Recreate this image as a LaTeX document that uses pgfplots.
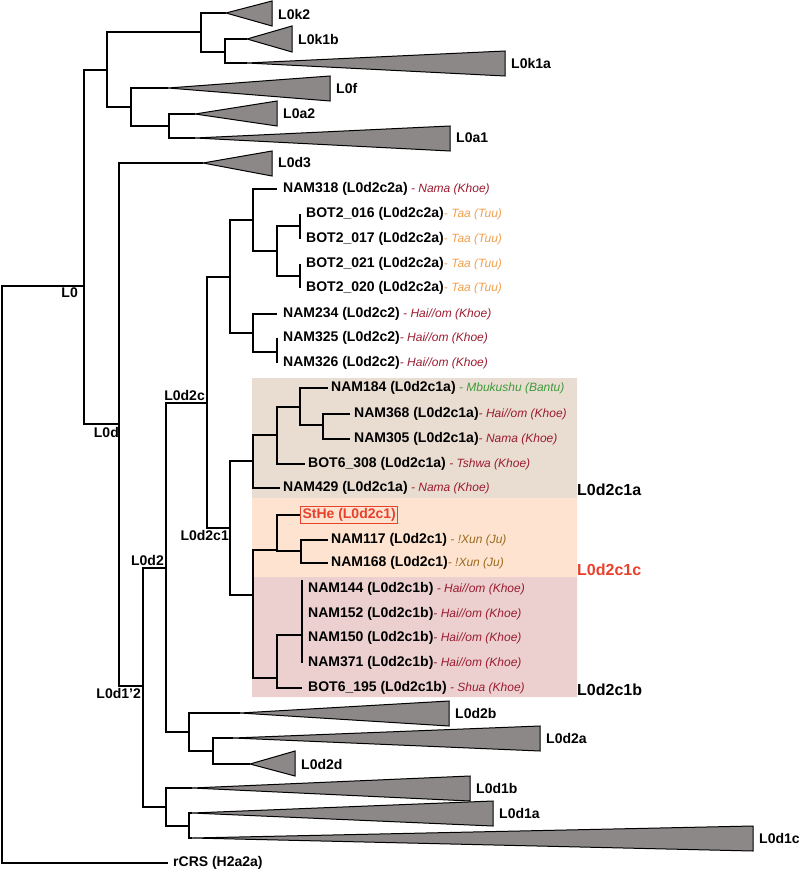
\documentclass[border=0pt]{standalone}
\usepackage{fontspec}
\setmainfont{Liberation Sans}
\usepackage{pgfplots}
\pgfplotsset{compat=1.18}
\definecolor{khoe}{HTML}{9B1B30}
\definecolor{taa}{HTML}{F0A050}
\definecolor{bantu}{HTML}{3F9A3A}
\definecolor{xun}{HTML}{9C6A1E}
\definecolor{hl}{HTML}{E8412C}
\definecolor{bga}{HTML}{E9DDD2}
\definecolor{bgc}{HTML}{FDE3D0}
\definecolor{bgb}{HTML}{EBD0CF}
\definecolor{trig}{HTML}{8C8888}
\tikzset{br/.style={black,line width=1.3pt,no marks},
 tri/.style={draw=black,fill=trig,line width=1pt,no marks},
 bg/.style={draw=none,fill=#1,no marks},
 lf/.style={anchor=west,inner sep=1pt},
 cl/.style={anchor=west,inner sep=1pt,font=\fontsize{14}{16}\selectfont\bfseries},
 big/.style={anchor=west,inner sep=1pt,font=\fontsize{16}{18}\selectfont\bfseries}}
\newcommand{\lf}[3]{{\fontsize{14}{16}\selectfont\bfseries #1}{\fontsize{12}{14}\selectfont\itshape\color{#2}#3}}
\begin{document}
\begin{tikzpicture}
\begin{axis}[width=800pt,height=872pt,scale only axis,xmin=0,xmax=800,ymin=0,ymax=872,
 y dir=reverse,hide axis,clip=false]
% shaded groups
\addplot[bg=bga] coordinates {(252,378)(577,378)(577,498)(252,498)(252,378)};
\addplot[bg=bgc] coordinates {(252,498)(577,498)(577,577)(252,577)(252,498)};
\addplot[bg=bgb] coordinates {(252,577)(577,577)(577,697)(252,697)(252,577)};
% branches
\addplot[br] coordinates {(84,286)(2,286)(2,863)(168,863)};
\addplot[br] coordinates {(107,70)(84,70)(84,424)(119,424)};
\addplot[br] coordinates {(201,32)(107,32)(107,107)(131,107)};
\addplot[br] coordinates {(226,13)(201,13)(201,52)(225,52)};
\addplot[br] coordinates {(247,39)(225,39)(225,63)(247,63)};
\addplot[br] coordinates {(168,88)(131,88)(131,126)(169,126)};
\addplot[br] coordinates {(195,114)(169,114)(169,138)(195,138)};
\addplot[br] coordinates {(203,163)(119,163)(119,686)(143,686)};
\addplot[br] coordinates {(166,568)(143,568)(143,807)(166,807)};
\addplot[br] coordinates {(207,403)(166,403)(166,732)(189,732)};
\addplot[br] coordinates {(230,277)(207,277)(207,528)(230,528)};
\addplot[br] coordinates {(253,220)(230,220)(230,333)(253,333)};
\addplot[br] coordinates {(277,189)(253,189)(253,251)(277,251)};
\addplot[br] coordinates {(300,226)(277,226)(277,276)(300,276)};
\addplot[br] coordinates {(300,214)(300,239)};
\addplot[br] coordinates {(300,264)(300,288)};
\addplot[br] coordinates {(277,314)(253,314)(253,352)(277,352)};
\addplot[br] coordinates {(277,338)(277,363)};
\addplot[br] coordinates {(253,461)(230,461)(230,595)(253,595)};
\addplot[br] coordinates {(277,435)(253,435)(253,488)(280,488)};
\addplot[br] coordinates {(300,407)(277,407)(277,464)(305,464)};
\addplot[br] coordinates {(328,388)(300,388)(300,425)(323,425)};
\addplot[br] coordinates {(350,414)(323,414)(323,439)(350,439)};
\addplot[br] coordinates {(277,550)(253,550)(253,678)(277,678)};
\addplot[br] coordinates {(300,515)(277,515)(277,551)(301,551)};
\addplot[br] coordinates {(328,540)(301,540)(301,563)(328,563)};
\addplot[br] coordinates {(302,635)(277,635)(277,688)(302,688)};
\addplot[br] coordinates {(302,580)(302,663)};
\addplot[br] coordinates {(240,713)(189,713)(189,751)(213,751)};
\addplot[br] coordinates {(233,738)(213,738)(213,764)(250,764)};
\addplot[br] coordinates {(192,788)(166,788)(166,826)(189,826)};
\addplot[br] coordinates {(192,813)(189,813)(189,838)(192,838)};
% collapsed clades
\addplot[tri] coordinates {(226,13)(272,1)(272,26)(226,13)};
\addplot[tri] coordinates {(247,39)(292,26)(292,52)(247,39)};
\addplot[tri] coordinates {(247,63)(505,51)(505,76)(247,63)};
\addplot[tri] coordinates {(168,88)(330,76)(330,101)(168,88)};
\addplot[tri] coordinates {(195,114)(277,101)(277,126)(195,114)};
\addplot[tri] coordinates {(195,138)(450,126)(450,151)(195,138)};
\addplot[tri] coordinates {(203,163)(272,151)(272,176)(203,163)};
\addplot[tri] coordinates {(240,713)(449,701)(449,726)(240,713)};
\addplot[tri] coordinates {(233,738)(540,726)(540,751)(233,738)};
\addplot[tri] coordinates {(250,764)(295,751)(295,776)(250,764)};
\addplot[tri] coordinates {(192,788)(470,776)(470,801)(192,788)};
\addplot[tri] coordinates {(192,813)(493,801)(493,826)(192,813)};
\addplot[tri] coordinates {(192,838)(753,826)(753,851)(192,838)};
\addplot[draw=none,no marks] coordinates {(0,0)(800,872)};
% clade labels
\node[cl] at (axis cs:277,14) {L0k2};
\node[cl] at (axis cs:297,39) {L0k1b};
\node[cl] at (axis cs:510,63) {L0k1a};
\node[cl] at (axis cs:335,88) {L0f};
\node[cl] at (axis cs:282,114) {L0a2};
\node[cl] at (axis cs:455,138) {L0a1};
\node[cl] at (axis cs:277,163) {L0d3};
\node[cl] at (axis cs:454,713) {L0d2b};
\node[cl] at (axis cs:545,738) {L0d2a};
\node[cl] at (axis cs:300,764) {L0d2d};
\node[cl] at (axis cs:475,788) {L0d1b};
\node[cl] at (axis cs:498,813) {L0d1a};
\node[cl] at (axis cs:758,838) {L0d1c};
% node labels
\node[cl,anchor=north east] at (axis cs:79,287) {L0};
\node[cl,anchor=north east] at (axis cs:120,426) {L0d};
\node[cl,anchor=north east] at (axis cs:142,687) {L0d1'2};
\node[cl,anchor=south east] at (axis cs:165,567) {L0d2};
\node[cl,anchor=south east] at (axis cs:206,402) {L0d2c};
\node[cl,anchor=north east] at (axis cs:230,529) {L0d2c1};
% group labels
\node[big] at (axis cs:576,490) {L0d2c1a};
\node[big,text=hl] at (axis cs:576,570) {L0d2c1c};
\node[big] at (axis cs:576,690) {L0d2c1b};
% leaves
\node[lf] at (axis cs:282,189) {\lf{NAM318 (L0d2c2a)}{khoe}{\ - Nama (Khoe)}};
\node[lf] at (axis cs:305,214) {\lf{BOT2\_016 (L0d2c2a)}{taa}{- Taa (Tuu)}};
\node[lf] at (axis cs:305,239) {\lf{BOT2\_017 (L0d2c2a)}{taa}{- Taa (Tuu)}};
\node[lf] at (axis cs:305,264) {\lf{BOT2\_021 (L0d2c2a)}{taa}{- Taa (Tuu)}};
\node[lf] at (axis cs:305,288) {\lf{BOT2\_020 (L0d2c2a)}{taa}{- Taa (Tuu)}};
\node[lf] at (axis cs:282,314) {\lf{NAM234 (L0d2c2)}{khoe}{\ - Hai//om (Khoe)}};
\node[lf] at (axis cs:282,338) {\lf{NAM325 (L0d2c2)}{khoe}{- Hai//om (Khoe)}};
\node[lf] at (axis cs:282,363) {\lf{NAM326 (L0d2c2)}{khoe}{- Hai//om (Khoe)}};
\node[lf] at (axis cs:330,388) {\lf{NAM184 (L0d2c1a)}{bantu}{\ - Mbukushu (Bantu)}};
\node[lf] at (axis cs:353,414) {\lf{NAM368 (L0d2c1a)}{khoe}{- Hai//om (Khoe)}};
\node[lf] at (axis cs:353,439) {\lf{NAM305 (L0d2c1a)}{khoe}{- Nama (Khoe)}};
\node[lf] at (axis cs:307,464) {\lf{BOT6\_308 (L0d2c1a)}{khoe}{\ - Tshwa (Khoe)}};
\node[lf] at (axis cs:282,488) {\lf{NAM429 (L0d2c1a)}{khoe}{\ - Nama (Khoe)}};
\node[anchor=west,draw=hl,line width=1pt,inner sep=2pt,text=hl,font=\fontsize{14}{16}\selectfont\bfseries] at (axis cs:300,515) {StHe (L0d2c1)};
\node[lf] at (axis cs:330,540) {\lf{NAM117 (L0d2c1)}{xun}{\ - !Xun (Ju)}};
\node[lf] at (axis cs:330,563) {\lf{NAM168 (L0d2c1)}{xun}{- !Xun (Ju)}};
\node[lf] at (axis cs:307,589) {\lf{NAM144 (L0d2c1b)}{khoe}{\ - Hai//om (Khoe)}};
\node[lf] at (axis cs:307,614) {\lf{NAM152 (L0d2c1b)}{khoe}{- Hai//om (Khoe)}};
\node[lf] at (axis cs:307,638) {\lf{NAM150 (L0d2c1b)}{khoe}{- Hai//om (Khoe)}};
\node[lf] at (axis cs:307,663) {\lf{NAM371 (L0d2c1b)}{khoe}{- Hai//om (Khoe)}};
\node[lf] at (axis cs:307,688) {\lf{BOT6\_195 (L0d2c1b)}{khoe}{\ - Shua (Khoe)}};
\node[lf] at (axis cs:172,863) {\lf{rCRS (H2a2a)}{black}{}};
\end{axis}
\end{tikzpicture}
\end{document}
